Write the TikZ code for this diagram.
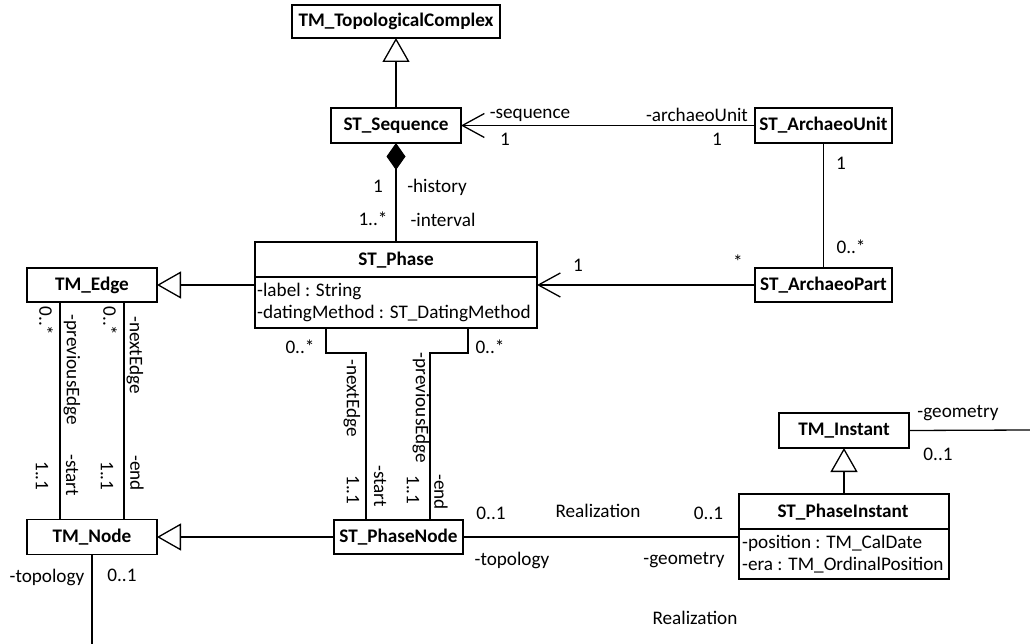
\documentclass[tikz,border=0pt]{standalone}
\usepackage{fontspec}
\setmainfont{Carlito}
\usetikzlibrary{arrows.meta}
\newcommand\lblfont{\fontsize{19.2pt}{22pt}\selectfont}
\begin{document}
\begin{tikzpicture}[x=1pt,y=-1pt,
  cls/.style={draw, line width=1.6pt, inner sep=0pt, outer sep=0pt, font=\lblfont\bfseries},
  lbl/.style={inner sep=0pt, font=\lblfont},
  rlbl/.style={inner sep=0pt, font=\lblfont, rotate=-90},
  conn/.style={line width=1.3pt},
  gen/.style={-{Triangle[fill=white,length=24pt,width=27pt]}},
  nav/.style={-{Straight Barb[length=22pt,width=24pt]}},
  comp/.style={{Diamond[length=27pt,width=19pt]}-}]
\useasboundingbox (0,0) rectangle (1030,644);
% classes
\node[cls, minimum width=208pt, minimum height=33pt] (tc) at (396,21.5) {TM\_TopologicalComplex};
\node[cls, minimum width=130pt, minimum height=35pt] (seq) at (396,125.5) {ST\_Sequence};
\node[cls, minimum width=137pt, minimum height=35pt] (au) at (823.5,125.5) {ST\_ArchaeoUnit};
\node[cls, minimum width=130pt, minimum height=34pt] (edge) at (92,285) {TM\_Edge};
\node[cls, minimum width=282pt, minimum height=86pt] (phase) at (396,285) {};
\node[lbl, font=\lblfont\bfseries] (phaset) at (396,260) {ST\_Phase};
\draw[line width=1.6pt] (255,277) -- (537,277);
\node[lbl, anchor=west] (pa1) at (257,291) {-label : String};
\node[lbl, anchor=west] (pa2) at (257,313) {-datingMethod : ST\_DatingMethod};
\node[cls, minimum width=137pt, minimum height=34pt] (ap) at (823.5,285) {ST\_ArchaeoPart};
\node[cls, minimum width=130pt, minimum height=35pt] (node) at (92,537) {TM\_Node};
\node[cls, minimum width=129pt, minimum height=34pt] (pn) at (398.5,537) {ST\_PhaseNode};
\node[cls, minimum width=130pt, minimum height=35pt] (inst) at (844,430.5) {TM\_Instant};
\node[cls, minimum width=210pt, minimum height=85pt] (pi) at (844,536.5) {};
\node[lbl, font=\lblfont\bfseries] (pit) at (843,512) {ST\_PhaseInstant};
\draw[line width=1.6pt] (739,529) -- (949,529);
\node[lbl, anchor=west] (pia1) at (742,543) {-position : TM\_CalDate};
\node[lbl, anchor=west] (pia2) at (742,565) {-era : TM\_OrdinalPosition};
% connectors
\draw[conn,gen] (seq.north) -- (tc.south);
\draw[conn,nav] (au.west) -- (seq.east);
\draw[conn,comp] (seq.south) -- (phase.north);
\draw[conn,gen] (phase.west) -- (edge.east);
\draw[conn,nav] (ap.west) -- (phase.east);
\draw[conn] (au.south) -- (ap.north);
\draw[conn] ([xshift=-32pt]edge.south) -- ([xshift=-32pt]node.north);
\draw[conn] ([xshift=32pt]edge.south) -- ([xshift=32pt]node.north);
\draw[conn,gen] (pn.west) -- (node.east);
\draw[conn] ([xshift=-70pt]phase.south) -- ++(0,25) -| ([xshift=-32.5pt]pn.north);
\draw[conn] ([xshift=72pt]phase.south) -- ++(0,25) -| ([xshift=31.5pt]pn.north);
\draw[conn] (pn.east) -- (pn.east -| pi.west);
\draw[conn,gen] (pi.north) -- (inst.south);
\coordinate (nb) at (92,644);
\draw[conn] (node.south) -- (nb);
\coordinate (ie) at (1030,430);
\draw[conn] (inst.east) -- (ie);
% labels
\node[lbl] (l1) at (530,115) {-sequence};
\node[lbl] (l2) at (505,139) {1};
\node[lbl] (l3) at (697,115) {-archaeoUnit};
\node[lbl] (l4) at (717,139) {1};
\node[lbl] (l5) at (378,186) {1};
\node[lbl] (l6) at (437,187) {-history};
\node[lbl] (l7) at (373,219) {1..*};
\node[lbl] (l8) at (443,220) {-interval};
\node[lbl] (l9) at (578,265) {1};
\node[lbl] (l10) at (738,262) {*};
\node[lbl] (l11) at (841,163) {1};
\node[lbl] (l12) at (851,247) {0..*};
\node[rlbl] (r1) at (46,321) {0..*};
\node[rlbl] (r2) at (72,370) {-previousEdge};
\node[rlbl] (r3) at (110,321) {0..*};
\node[rlbl] (r4) at (135,355) {-nextEdge};
\node[rlbl] (r5) at (42,476) {1..1};
\node[rlbl] (r6) at (72,475) {-start};
\node[rlbl] (r7) at (107,476) {1..1};
\node[rlbl] (r8) at (137,473) {-end};
\node[lbl] (m1) at (300,347) {0..*};
\node[lbl] (m2) at (490,347) {0..*};
\node[rlbl] (m3) at (352,398) {-nextEdge};
\node[rlbl] (m4) at (421,408) {-previousEdge};
\node[rlbl] (m5) at (353,490) {1..1};
\node[rlbl] (m6) at (380,486) {-start};
\node[rlbl] (m7) at (413,490) {1..1};
\node[rlbl] (m8) at (441,492) {-end};
\node[lbl] (n1) at (491,513) {0..1};
\node[lbl] (n2) at (598,511) {Realization};
\node[lbl] (n3) at (708.5,513) {0..1};
\node[lbl] (n4) at (512,560) {-topology};
\node[lbl] (n5) at (684,560) {-geometry};
\node[lbl] (n6) at (695,618) {Realization};
\node[lbl] (i1) at (958,413) {-geometry};
\node[lbl] (i2) at (938,454) {0..1};
\node[lbl] (t1) at (47,577) {-topology};
\node[lbl] (t2) at (122,575) {0..1};
\end{tikzpicture}
\end{document}
